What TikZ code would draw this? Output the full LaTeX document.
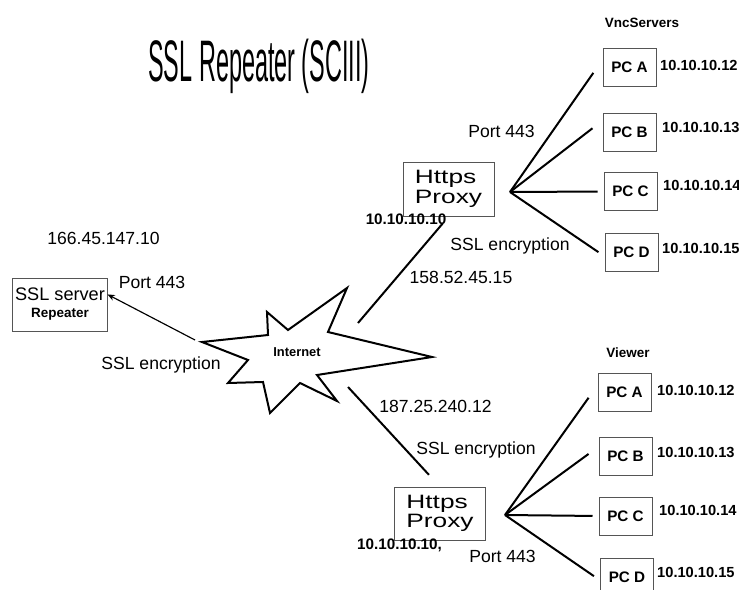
\documentclass[tikz,border=0pt]{standalone}
\usepackage{fontspec}
\setmainfont{Liberation Sans}
\usetikzlibrary{arrows.meta}

\definecolor{bx}{RGB}{85,85,85}

\begin{document}
\begin{tikzpicture}[
        x=0.3mm, y=-0.3mm,
        txt/.style={font=\fontsize{15}{17}\selectfont, inner sep=0pt},
        iptxt/.style={font=\bfseries\fontsize{12.5}{14}\selectfont, inner sep=0pt},
        head/.style={font=\bfseries\fontsize{11.5}{13}\selectfont, inner sep=0pt},
        pc/.style={draw=bx, line width=0.3mm, minimum width=15.9mm, minimum height=11.4mm, inner sep=0pt, font=\bfseries\fontsize{13}{15}\selectfont},
        proxy/.style={draw=bx, line width=0.3mm, minimum width=27.3mm, minimum height=16mm, inner sep=0pt, font=\fontsize{16.5}{17}\selectfont},
        srvbox/.style={draw=bx, line width=0.3mm, minimum width=28.2mm, minimum height=15.9mm, inner sep=0pt, align=center, font=\fontsize{15.5}{14.5}\selectfont},
        link/.style={line width=0.6mm},
        arr/.style={line width=0.35mm, -{Stealth[length=2.2mm, width=1.8mm]}},
    ]
    \useasboundingbox (0,0) rectangle (739,590);

    \node at (259,66) {\scalebox{0.40}[1]{\fontsize{50}{50}\selectfont SSL Repeater (SCIII)}};

    % internet cloud
    \draw[line width=0.6mm, line join=miter, fill=white]
        (202,342) -- (268,335) -- (267,312) -- (288,330) -- (347,288) -- (328,332)
        -- (432,357) -- (317,375) -- (337,401) -- (300,383) -- (270,413) -- (263,382)
        -- (228,383) -- (248,360) -- cycle;
    \node[head, font=\bfseries\fontsize{11}{13}\selectfont] (net) at (297,352) {Internet};
    \coordinate (netW) at (195,340);
    \coordinate (netNE) at (358,323);
    \coordinate (netSE) at (348,387);

    % repeater
    \node[srvbox] (srv) at (60,304.5) {SSL server\\{\bfseries\fontsize{11.5}{13}\selectfont Repeater}};
    \node[txt] at (103.5,238) {166.45.147.10};
    \node[txt] at (152,282) {Port 443};
    \node[txt] at (161,365) {SSL encryption};

    \draw[arr] (netW) -- (srv.12);

    % upper proxy
    \node[proxy] (pu) at (448.5,189.5) {\scalebox{1.36}[1]{\begin{tabular}{@{}l@{}}Https\\Proxy\end{tabular}}};
    \node[iptxt, font=\bfseries\fontsize{13}{15}\selectfont] at (406,219) {10.10.10.10};
    \node[txt] at (501.5,131) {Port 443};
    \node[txt] at (510,246) {SSL encryption};
    \node[txt] at (461,277) {158.52.45.15};
    \coordinate (hu) at (510,192);

    \draw[link, shorten >=2.7mm] (netNE) -- (pu.south);

    \node[head] at (642,23) {VncServers};
    \node[pc] (u1) at (629.5,67) {PC A};
    \node[pc] (u2) at (629.5,132) {PC B};
    \node[pc] (u3) at (630.5,191.5) {PC C};
    \node[pc] (u4) at (631.5,252.5) {PC D};
    \node[iptxt, anchor=west] at (660,65) {10.10.10.12};
    \node[iptxt, anchor=west] at (662,127) {10.10.10.13};
    \node[iptxt, anchor=west] at (663,185) {10.10.10.14};
    \node[iptxt, anchor=west] at (662,248) {10.10.10.15};

    \path[link]
    (hu) edge[shorten >=4.8mm] (u1.165)
    (hu) edge[shorten >=3.8mm] (u2.157)
    (hu) edge[shorten >=1.8mm] (u3.west)
    (hu) edge[shorten >=2.2mm] (u4.188)
    ;

    % lower proxy
    \node[proxy] (pl) at (440,514) {\scalebox{1.36}[1]{\begin{tabular}{@{}l@{}}Https\\Proxy\end{tabular}}};
    \node[iptxt, font=\bfseries\fontsize{13}{15}\selectfont, anchor=west] at (357,545) {10.10.10.10,};
    \node[txt] at (502.5,556) {Port 443};
    \node[txt] at (476,450) {SSL encryption};
    \node[txt] at (435.5,406) {187.25.240.12};
    \coordinate (hl) at (505,515);

    \draw[link, shorten >=4.9mm] (netSE) -- (pl.north);

    \node[head] at (628,353) {Viewer};
    \node[pc] (l1) at (624.5,392) {PC A};
    \node[pc] (l2) at (625.5,456.5) {PC B};
    \node[pc] (l3) at (625.5,516) {PC C};
    \node[pc] (l4) at (627,577) {PC D};
    \node[iptxt, anchor=west] at (657,390) {10.10.10.12};
    \node[iptxt, anchor=west] at (657,452) {10.10.10.13};
    \node[iptxt, anchor=west] at (659,510) {10.10.10.14};
    \node[iptxt, anchor=west] at (657,572) {10.10.10.15};

    \path[link]
    (hl) edge[shorten >=4.6mm] (l1.166)
    (hl) edge[shorten >=3.7mm] (l2.160)
    (hl) edge[shorten >=1.8mm] (l3.west)
    (hl) edge[shorten >=2.2mm] (l4.187)
    ;
\end{tikzpicture}
\end{document}
